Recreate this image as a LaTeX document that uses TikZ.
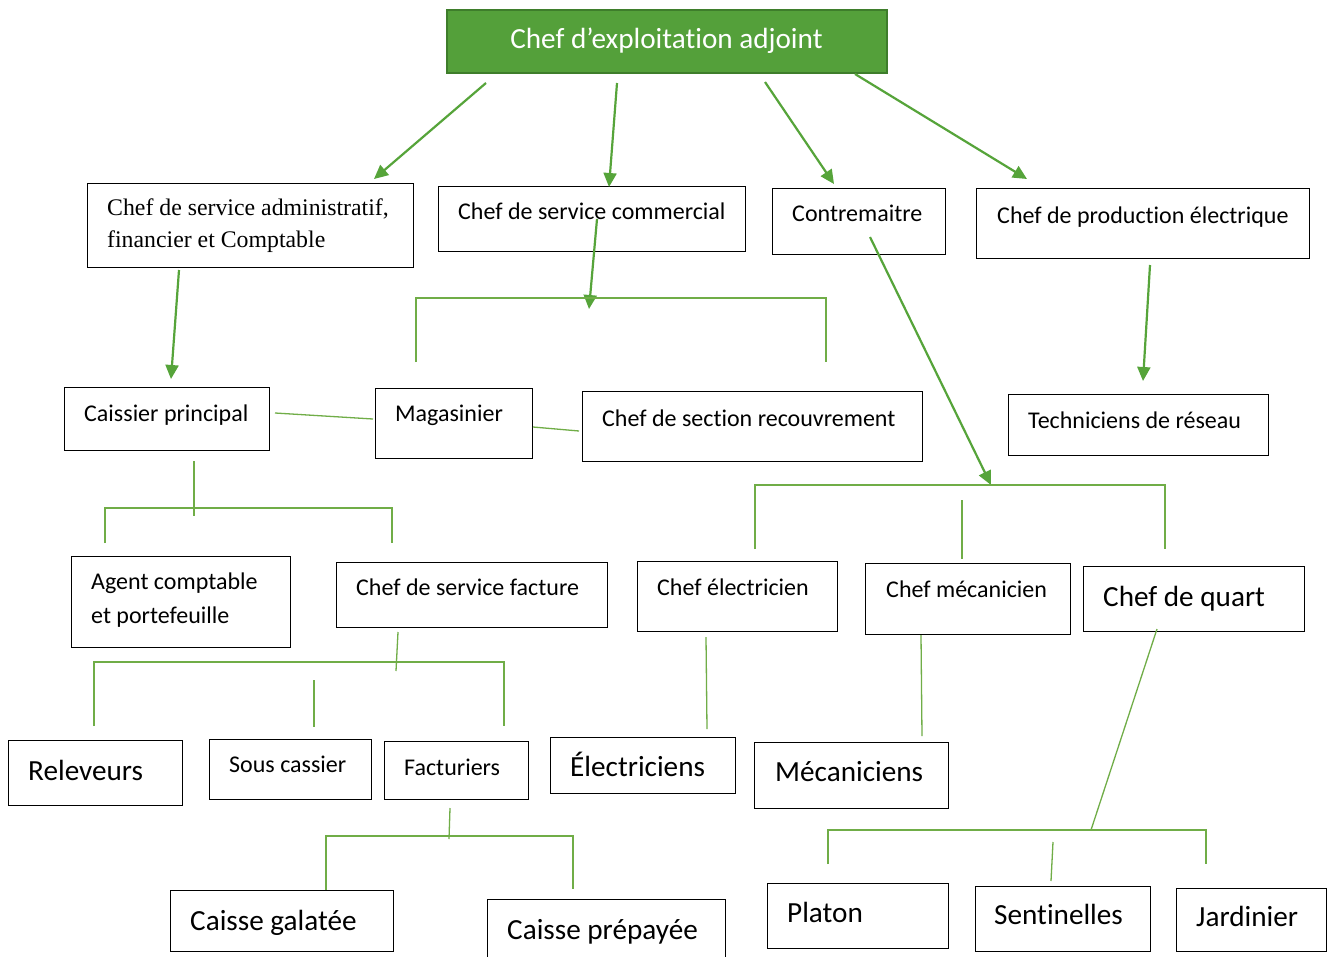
\documentclass[tikz,border=0pt]{standalone}
\usepackage{fontspec}
\setmainfont{Carlito}[Ligatures=NoCommon]
\newfontfamily\timesfont{Liberation Serif}
\usetikzlibrary{arrows.meta}

\definecolor{leafgreen}{RGB}{112,173,71}
\definecolor{arrowgreen}{RGB}{86,164,58}
\definecolor{headfill}{RGB}{84,160,58}
\definecolor{headedge}{RGB}{62,125,43}

\tikzset{
  orgbox/.style={draw=black, line width=1.1pt, inner sep=0pt, anchor=north west},
  caption/.style={anchor=base west, inner sep=0pt, font=\fontsize{24}{30}\selectfont},
  bigcaption/.style={caption, font=\fontsize{29.2}{34}\selectfont},
  feed/.style={draw=arrowgreen, line width=2.2pt, -{Triangle[length=14pt,width=13pt]}},
  link/.style={draw=leafgreen, line width=1.3pt},
}

% \orgbox{name}{x1}{y1}{x2}{y2}: empty framed box from top-left to bottom-right
\newcommand\orgbox[5]{\node[orgbox, minimum width={#4pt-#2pt}, minimum height={#5pt-#3pt}] (#1) at (#2,#3) {};}

\begin{document}
\begin{tikzpicture}[x=1pt, y=-1pt]
\clip (0,0) rectangle (1328,956);
\fill[white] (0,0) rectangle (1328,956);

% ---- head of the chart
\node[draw=headedge, fill=headfill, line width=2pt, minimum width=440pt, minimum height=63pt,
      inner sep=0pt, text=white, font=\fontsize{29.2}{34}\selectfont] (head) at (666.5,41) {Chef d’exploitation adjoint};

% ---- boxes
\orgbox{admin}{87}{183}{413}{267}
\orgbox{comm}{438}{186}{745}{251}
\orgbox{contre}{772}{188}{945}{254}
\orgbox{prod}{976}{188}{1309}{258}
\orgbox{caissier}{64}{387}{269}{450}
\orgbox{magas}{375}{388}{532}{458}
\orgbox{recouv}{582}{391}{922}{461}
\orgbox{techn}{1008}{394}{1268}{455}
\orgbox{agent}{71}{556}{290}{647}
\orgbox{facture}{336}{562}{607}{627}
\orgbox{chelec}{637}{561}{837}{631}
\orgbox{chmeca}{865}{563}{1070}{634}
\orgbox{quart}{1083}{566}{1304}{631}
\orgbox{relev}{8}{740}{182}{805}
\orgbox{souscas}{209}{739}{371}{799}
\orgbox{factur}{384}{741}{528}{799}
\orgbox{elec}{550}{737}{735}{793}
\orgbox{meca}{754}{742}{948}{808}
\orgbox{galatee}{170}{890}{393}{951}
\orgbox{prepay}{487}{899}{725}{966}
\orgbox{platon}{767}{883}{948}{948}
\orgbox{sentin}{975}{886}{1150}{951}
\orgbox{jardin}{1176}{888}{1326}{951}

% ---- captions
\node[caption, font=\timesfont\fontsize{23.8}{30}\selectfont] (admin-a) at (107,215) {Chef de service administratif,};
\node[caption, font=\timesfont\fontsize{23.8}{30}\selectfont] (admin-b) at (107,247) {financier et Comptable};
\node[caption] (comm-t) at (458,219) {Chef de service commercial};
\node[caption] (contre-t) at (792,221) {Contremaitre};
\node[caption] (prod-t) at (997,223) {Chef de production électrique};
\node[caption] (caissier-t) at (84,421) {Caissier principal};
\node[caption] (magas-t) at (395,421) {Magasinier};
\node[caption] (recouv-t) at (602,426) {Chef de section recouvrement};
\node[caption] (techn-t) at (1028,428) {Techniciens de réseau};
\node[caption] (agent-a) at (91,589) {Agent comptable};
\node[caption] (agent-b) at (91,623) {et portefeuille};
\node[caption] (facture-t) at (356,595) {Chef de service facture};
\node[caption] (chelec-t) at (657,595) {Chef électricien};
\node[caption] (chmeca-t) at (886,597) {Chef mécanicien};
\node[bigcaption] (quart-t) at (1103,606) {Chef de quart};
\node[bigcaption] (relev-t) at (28,780) {Releveurs};
\node[caption] (souscas-t) at (229,772) {Sous cassier};
\node[caption] (factur-t) at (404,775) {Facturiers};
\node[bigcaption] (elec-t) at (570,776) {Électriciens};
\node[bigcaption] (meca-t) at (775,781) {Mécaniciens};
\node[bigcaption] (galatee-t) at (190,930) {Caisse galatée};
\node[bigcaption] (prepay-t) at (507,939) {Caisse prépayée};
\node[bigcaption] (platon-t) at (787,922) {Platon};
\node[bigcaption] (sentin-t) at (994,924) {Sentinelles};
\node[bigcaption] (jardin-t) at (1196,926) {Jardinier};

% ---- connector end points
\coordinate (h1) at (486,83);   \coordinate (admin-in) at (374,179);
\coordinate (h2) at (617,83);   \coordinate (comm-in) at (609,187);
\coordinate (h3) at (765,82);   \coordinate (contre-in) at (834,184);
\coordinate (h4) at (855,74);   \coordinate (prod-in) at (1027,179);
\coordinate (admin-out) at (179,270);  \coordinate (caissier-in) at (171,379);
\coordinate (comm-out) at (597,219);   \coordinate (comm-fork) at (589,309);
\coordinate (contre-out) at (870,237); \coordinate (contre-fork) at (991,485);
\coordinate (prod-out) at (1150,265);  \coordinate (techn-in) at (1143,381);

% ---- reporting arrows
\draw[feed] (h1) -- (admin-in);
\draw[feed] (h2) -- (comm-in);
\draw[feed] (h3) -- (contre-in);
\draw[feed] (h4) -- (prod-in);
\draw[feed] (admin-out) -- (caissier-in);
\draw[feed] (comm-out) -- (comm-fork);
\draw[feed] (contre-out) -- (contre-fork);
\draw[feed] (prod-out) -- (techn-in);

% ---- fork under the commercial service
\draw[link] (416,362) -- (416,298) -- (826,298) -- (826,362);

% ---- side links between the cashier, store keeper and recovery
\draw[link] (275,413) -- (373,419);
\draw[link] (533,427) -- (579,431);

% ---- fork under the chief cashier
\draw[link] (194,461) -- (194,516);
\draw[link] (105,543) -- (105,508) -- (392,508) -- (392,543);

% ---- fork under the billing service
\draw[link] (398,632) -- (396,671);
\draw[link] (94,726) -- (94,662) -- (504,662) -- (504,726);
\draw[link] (314,680) -- (314,727);

% ---- fork under the billing clerks
\draw[link] (450,808) -- (449,839);
\draw[link] (326,890) -- (326,836) -- (573,836) -- (573,889);

% ---- fork under the foreman
\draw[link] (755,549) -- (755,485) -- (1165,485) -- (1165,549);
\draw[link] (962,500) -- (962,559);

% ---- links to the electricians and mechanics
\draw[link] (706,637) -- (707,729);
\draw[link] (921,635) -- (922,736);

% ---- fork under the shift chief
\draw[link] (1157,629) -- (1091,830);
\draw[link] (828,864) -- (828,830) -- (1206,830) -- (1206,864);
\draw[link] (1053,842) -- (1051,881);
\end{tikzpicture}
\end{document}
